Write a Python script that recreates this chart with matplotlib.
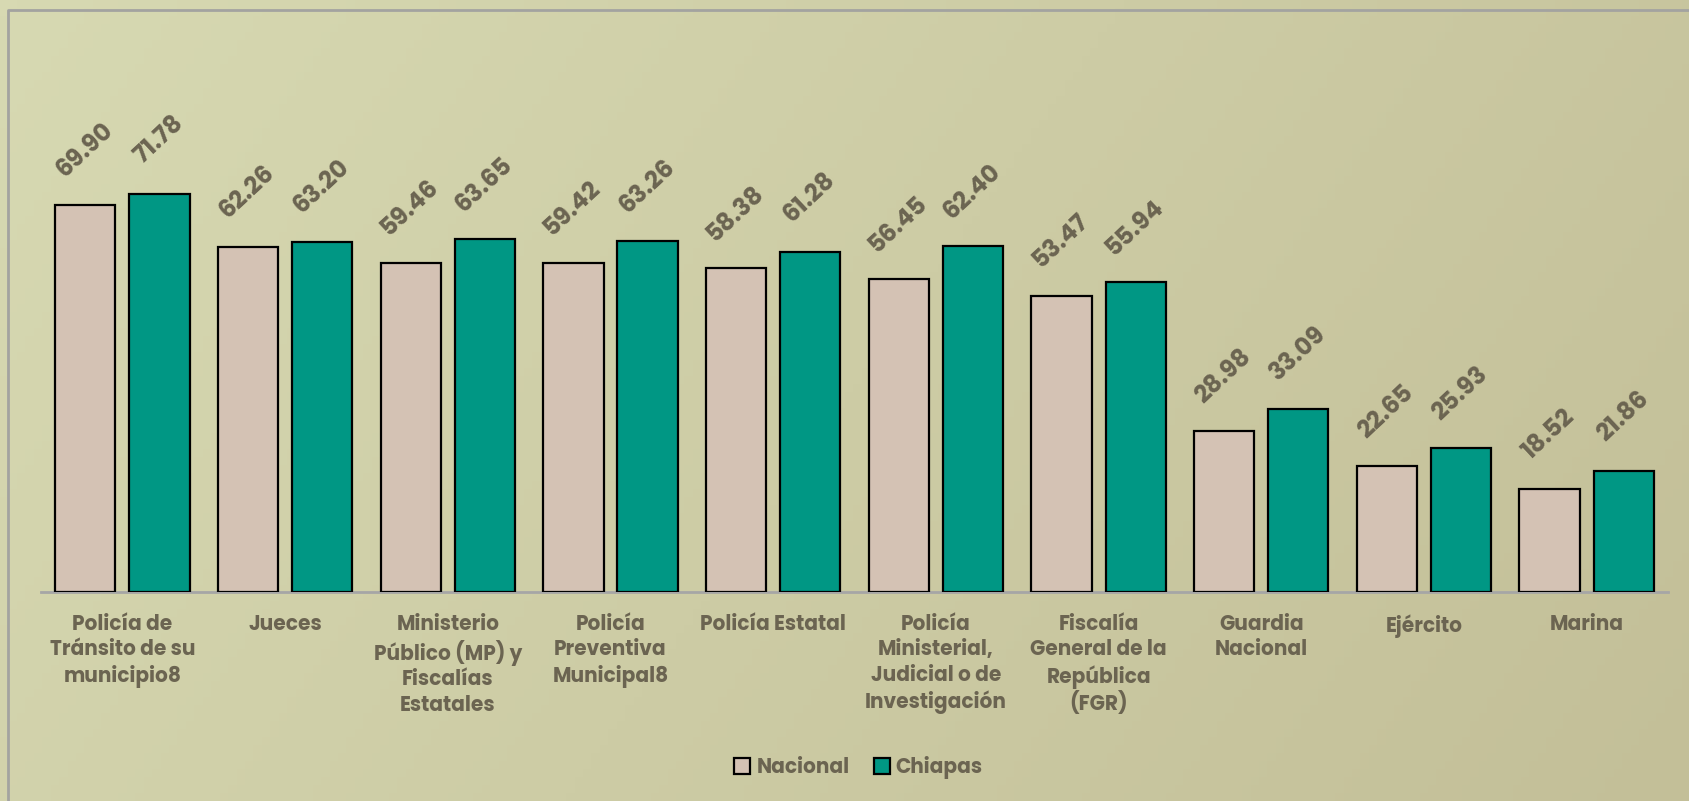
import numpy as np
import matplotlib
matplotlib.use("Agg")
from matplotlib import pyplot as plt
from matplotlib.colors import LinearSegmentedColormap
from matplotlib.patches import Patch

categories = [
    "Policía de\nTránsito de su\nmunicipio8",
    "Jueces",
    "Ministerio\nPúblico (MP) y\nFiscalías\nEstatales",
    "Policía\nPreventiva\nMunicipal8",
    "Policía Estatal",
    "Policía\nMinisterial,\nJudicial o de\nInvestigación",
    "Fiscalía\nGeneral de la\nRepública\n(FGR)",
    "Guardia\nNacional",
    "Ejército",
    "Marina",
]
nacional = [69.90, 62.26, 59.46, 59.42, 58.38, 56.45, 53.47, 28.98, 22.65, 18.52]
chiapas = [71.78, 63.20, 63.65, 63.26, 61.28, 62.40, 55.94, 33.09, 25.93, 21.86]
series_names = ["Nacional", "Chiapas"]

text_color = "#6b6451"
colors = ["#d4c2b4", "#009784"]
font = "Poppins"
plt.rcParams["font.family"] = font

fig = plt.figure(figsize=(16.9, 8.01), dpi=100)

# background gradient (light left -> darker right)
bg = fig.add_axes([0, 0, 1, 1], zorder=-10)
gx, gy = np.meshgrid(np.linspace(0, 1, 200), np.linspace(0, 1, 100))
grad = 0.75 * gx + 0.25 * gy
cmap = LinearSegmentedColormap.from_list("bg", ["#d7d9b2", "#c3bf98"])
bg.imshow(grad, cmap=cmap, aspect="auto", extent=[0, 1, 0, 1], origin="upper")
# only top and left edges of the outer frame are visible
bg.plot([8 / 1690, 8 / 1690, 1], [0, 1 - 10 / 801, 1 - 10 / 801],
        color="#a3a3a0", linewidth=2, transform=bg.transAxes)
bg.set_xlim(0, 1)
bg.set_ylim(0, 1)
bg.set_axis_off()

ax = fig.add_axes([0.0243, 0.261, 0.9627, 0.664])
ax.set_facecolor("none")

x = np.arange(len(categories))
w = 0.37
off = 0.228
for vals, sgn, col in [(nacional, -1, colors[0]), (chiapas, 1, colors[1])]:
    bars = ax.bar(x + sgn * off, vals, width=w, color=col,
                  edgecolor="black", linewidth=1.6, zorder=3)
    for b, v in zip(bars, vals):
        ax.annotate(f"{v:.2f}", (b.get_x() + b.get_width() / 2, b.get_height()),
                    xytext=(0, 39), textcoords="offset points",
                    ha="center", va="center", rotation=43,
                    rotation_mode="anchor", fontsize=17.5, fontweight="bold",
                    family=font, color=text_color)

ax.set_xlim(-0.5, len(categories) - 0.5)
ax.set_ylim(0, 96)
ax.set_xticks(x)
ax.set_xticklabels(categories, fontsize=14.5, fontweight="bold", family=font,
                   color=text_color, linespacing=1.2, va="top")
ax.tick_params(axis="x", length=0, pad=16)
ax.set_yticks([])
for s in ["top", "right", "left"]:
    ax.spines[s].set_visible(False)
ax.spines["bottom"].set_color("#a6a6a6")
ax.spines["bottom"].set_linewidth(2)

handles = [Patch(facecolor=c, edgecolor="black", linewidth=1.6) for c in colors]
fig.legend(handles, series_names, loc="center", bbox_to_anchor=(0.508, 0.042),
           ncol=2, frameon=False, handlelength=0.8, handleheight=0.8,
           handletextpad=0.3, columnspacing=1.2,
           prop={"family": font, "size": 14.5, "weight": "bold"},
           labelcolor=text_color)

fig.savefig("out.png", dpi=100)
